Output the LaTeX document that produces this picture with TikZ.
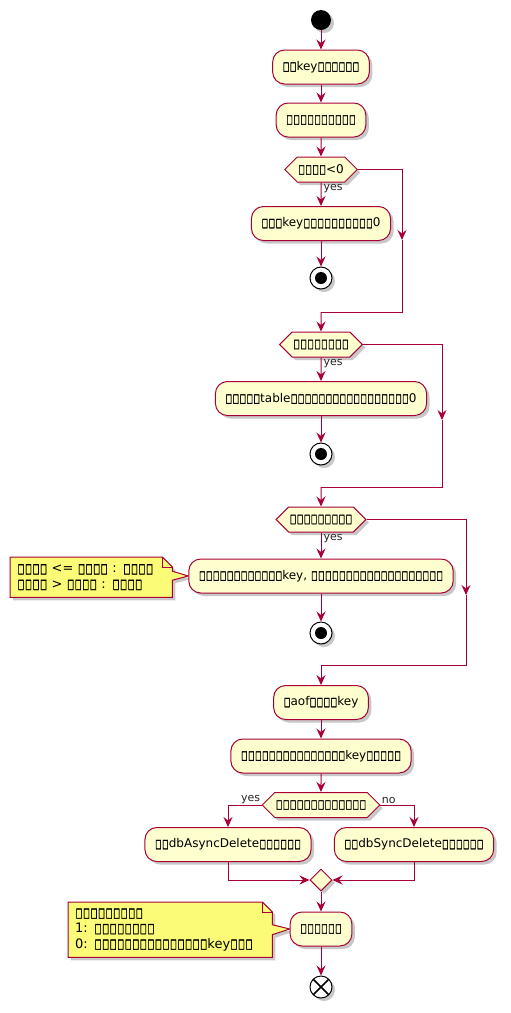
\documentclass[tikz,border=0pt]{standalone}
\usepackage{fontspec}
\setmainfont{DejaVu Sans}
\newfontfamily\tofufont[FakeBold=2.5]{DejaVu Sans}
\usepackage{graphicx}
\usetikzlibrary{arrows.meta,shapes.geometric,shapes.symbols,shadows,calc}
\definecolor{pu}{HTML}{A80036}
\definecolor{actfill}{HTML}{FEFECE}
\definecolor{notefill}{HTML}{FBFB77}
\pgfdeclarelayer{bg}
\pgfsetlayers{bg,main}
\newcommand\tfone{\makebox[0.58em]{\resizebox*{0.5em}{0.78em}{\tofufont □}}}
\ExplSyntaxOn
\cs_new:Npn \tfx #1 { \prg_replicate:nn {#1} {\tfone} }
\ExplSyntaxOff
\tikzset{
  shad/.style={drop shadow={shadow xshift=3pt, shadow yshift=-3pt, opacity=0.3, fill=black!70}},
  act/.style={draw=pu, fill=actfill, line width=1pt, rounded corners=12pt, minimum height=34pt, inner xsep=10pt, inner ysep=2pt, shad},
  dec/.style={shape=signal, signal to=east and west, signal pointer angle=90, draw=pu, fill=actfill, line width=1pt, minimum height=25pt, inner xsep=1pt, inner ysep=2pt, shad},
  merge/.style={diamond, draw=pu, fill=actfill, line width=1pt, minimum width=22pt, minimum height=22pt, inner sep=0pt, shad},
  lbl/.style={font=\fontsize{11}{13}\selectfont, inner sep=1pt, text=black!85},
  arr/.style={draw=pu, line width=1pt, -{Stealth[length=10pt,width=9pt,inset=3.5pt]}},
  ln/.style={draw=pu, line width=1pt},
  startc/.style={circle, fill=black, minimum size=20pt, inner sep=0pt, shad},
  stopc/.style={circle, draw=black, fill=white, line width=1pt, minimum size=22pt, inner sep=0pt, shad,
    path picture={\fill[black] (path picture bounding box.center) circle (6pt);}},
  endc/.style={circle, draw=black, fill=white, line width=1pt, minimum size=22pt, inner sep=0pt, shad,
    path picture={\draw[black, line width=1.6pt] ($(path picture bounding box.center)+(-8pt,-8pt)$) -- ($(path picture bounding box.center)+(8pt,8pt)$)
      ($(path picture bounding box.center)+(-8pt,8pt)$) -- ($(path picture bounding box.center)+(8pt,-8pt)$);}},
  notetext/.style={font=\fontsize{13}{15.5}\selectfont, align=left, inner xsep=7pt, inner ysep=4pt, anchor=north west},
  noteline/.style={draw=pu, line width=1pt, fill=notefill},
}
\begin{document}
\begin{tikzpicture}[x=1pt, y=-1pt, font=\fontsize{12}{14}\selectfont]
\begin{pgfonlayer}{bg}
\fill[white] (0,0) rectangle (511,1013);
\end{pgfonlayer}
\useasboundingbox (0,0) rectangle (511,1013);

\node[startc] (start) at (321,20) {};
\node[act] (a1) at (321,67) {\tfx{2}key\tfx{6}};
\node[act] (a2) at (321,120) {\tfx{10}};
\node[dec] (d1) at (321,169.5) {\tfx{4}<0};
\node[act] (a3) at (321,223.5) {\tfx{3}key\tfx{10}0};
\node[stopc] (s1) at (321,278) {};
\coordinate (r1) at (402,240);
\coordinate (j1) at (321,312);

\node[dec] (d2) at (321,344.5) {\tfx{8}};
\node[act] (a4) at (321,398.5) {\tfx{5}table\tfx{17}0};
\node[stopc] (s2) at (321,454) {};
\coordinate (r2) at (442,420);
\coordinate (j2) at (321,487);

\node[dec] (d3) at (321,519.5) {\tfx{9}};
\node[act] (a5) at (321,576) {\tfx{12}key, \tfx{19}};
\node[stopc] (s3) at (321,633) {};
\coordinate (r3) at (466,595);
\coordinate (j3) at (321,665);

\node[act] (a6) at (321,702.5) {\tfx{1}aof\tfx{4}key};
\node[act] (a7) at (321,756) {\tfx{15}key\tfx{5}};
\node[dec] (d4) at (321,805) {\tfx{13}};
\node[act] (a8) at (228,844.5) {\tfx{2}dbAsyncDelete\tfx{6}};
\node[act] (a9) at (414,844.5) {\tfx{2}dbSyncDelete\tfx{6}};
\node[merge] (dm) at (321,880) {};
\node[act] (a10) at (321,929) {\tfx{6}};
\node[endc] (end) at (321,987) {};

% notes
\node[notetext, text width=148pt, minimum height=40pt] (n1) at (10,557) {\tfx{4} <= \tfx{4} : \tfx{4}\\ \tfx{4} > \tfx{4} : \tfx{4}};
\node[notetext, text width=190pt, minimum height=55pt] (n2) at (68,902) {\tfx{9}\\ 1: \tfx{8}\\ 0: \tfx{15}key\tfx{3}};
\begin{pgfonlayer}{bg}
\draw[noteline, shad] (n1.north west) -- ($(n1.north east)+(-10,0)$) -- ($(n1.north east)+(0,10)$) -- ($(n1.east)+(0,-6)$) -- (a5.west) -- ($(n1.east)+(0,3)$) -- (n1.south east) -- (n1.south west) -- cycle;
\draw[ln] ($(n1.north east)+(-10,0)$) -- ($(n1.north east)+(-10,10)$) -- ($(n1.north east)+(0,10)$);
\draw[noteline, shad] (n2.north west) -- ($(n2.north east)+(-10,0)$) -- ($(n2.north east)+(0,10)$) -- ($(n2.east)+(0,-5)$) -- (a10.west) -- ($(n2.east)+(0,5)$) -- (n2.south east) -- (n2.south west) -- cycle;
\draw[ln] ($(n2.north east)+(-10,0)$) -- ($(n2.north east)+(-10,10)$) -- ($(n2.north east)+(0,10)$);
\end{pgfonlayer}

% connectors
\draw[arr] (start) -- (a1);
\draw[arr] (a1) -- (a2);
\draw[arr] (a2) -- (d1);
\draw[arr] (d1) -- node[lbl, pos=0, anchor=north west, xshift=1pt]{yes} (a3);
\draw[arr] (a3) -- (s1);
\draw[arr] (d1.east) -| (r1);
\draw[ln] (r1) |- (j1);
\draw[arr] (j1) -- (d2);

\draw[arr] (d2) -- node[lbl, pos=0, anchor=north west, xshift=1pt]{yes} (a4);
\draw[arr] (a4) -- (s2);
\draw[arr] (d2.east) -| (r2);
\draw[ln] (r2) |- (j2);
\draw[arr] (j2) -- (d3);

\draw[arr] (d3) -- node[lbl, pos=0, anchor=north west, xshift=1pt]{yes} (a5);
\draw[arr] (a5) -- (s3);
\draw[arr] (d3.east) -| (r3);
\draw[ln] (r3) |- (j3);
\draw[arr] (j3) -- (a6);

\draw[arr] (a6) -- (a7);
\draw[arr] (a7) -- (d4);
\draw[arr] (d4.west) node[lbl, anchor=south east]{yes} -| (a8.north);
\draw[arr] (d4.east) node[lbl, anchor=south west]{no} -| (a9.north);
\draw[arr] (a8.south) |- (dm.west);
\draw[arr] (a9.south) |- (dm.east);
\draw[arr] (dm) -- (a10);
\draw[arr] (a10) -- (end);
\end{tikzpicture}
\end{document}
